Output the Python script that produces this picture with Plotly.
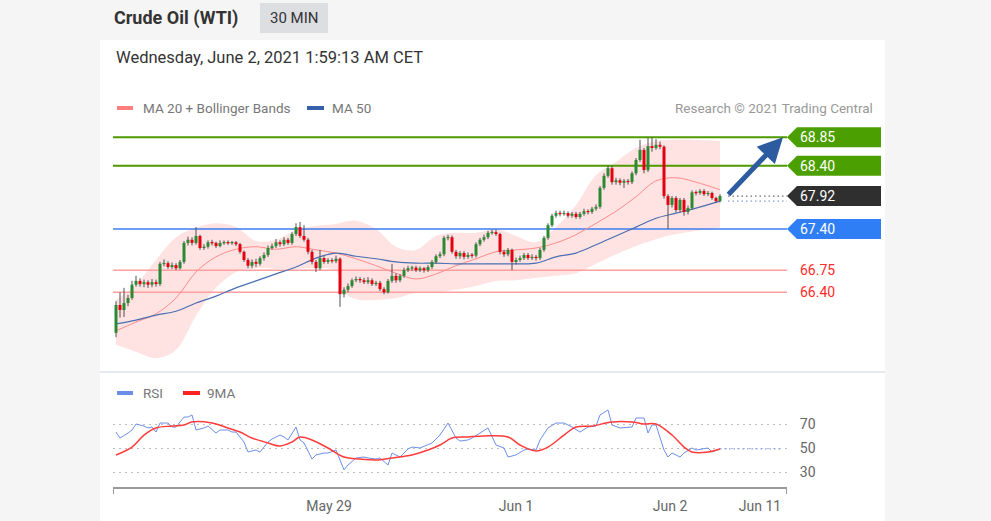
import plotly.graph_objects as go

W, H = 991, 521

# ---------------- data ----------------
opens = [65.76,66.20,66.12,66.23,66.31,66.52,66.58,66.53,66.56,66.52,
         66.56,66.53,66.85,66.86,66.80,66.83,66.78,66.88,67.18,67.23,
         67.18,67.29,67.10,67.12,67.19,67.18,67.13,67.18,67.19,67.18,
         67.19,67.16,67.04,66.91,66.82,66.88,66.85,66.94,66.99,67.10,
         67.13,67.19,67.16,67.23,67.18,67.32,67.43,67.29,67.23,67.04,
         66.88,66.78,66.94,66.88,66.91,66.89,66.93,66.37,66.44,66.50,
         66.59,66.61,66.59,66.56,66.59,66.53,66.55,66.45,66.40,66.58,
         66.66,66.59,66.66,66.75,66.78,66.79,66.75,66.78,66.75,66.80,
         66.88,66.97,67.00,67.26,67.27,67.04,66.97,67.02,66.96,66.99,
         66.98,67.16,67.23,67.27,67.34,67.35,67.32,67.04,67.00,67.07,
         66.88,66.91,66.94,66.99,66.94,66.96,66.94,67.07,67.26,67.46,
         67.61,67.65,67.64,67.65,67.61,67.64,67.59,67.64,67.68,67.67,
         67.72,67.75,68.05,68.24,68.36,68.14,68.17,68.13,68.16,68.14,
         68.28,68.49,68.65,68.33,68.71,68.68,68.73,68.70,67.92,67.78,
         67.89,67.70,67.86,67.67,67.73,67.98,67.97,68.00,67.95,67.97,
         67.89,67.84]
closes = [66.20,66.12,66.23,66.31,66.52,66.58,66.53,66.56,66.52,66.56,
          66.53,66.85,66.86,66.80,66.83,66.78,66.88,67.18,67.23,67.18,
          67.29,67.10,67.12,67.19,67.18,67.13,67.18,67.19,67.18,67.19,
          67.16,67.04,66.91,66.82,66.88,66.85,66.94,66.99,67.10,67.13,
          67.19,67.16,67.23,67.18,67.32,67.43,67.29,67.23,67.04,66.88,
          66.78,66.94,66.88,66.91,66.89,66.93,66.37,66.44,66.50,66.59,
          66.61,66.59,66.56,66.59,66.53,66.55,66.45,66.40,66.58,66.66,
          66.59,66.66,66.75,66.78,66.79,66.75,66.78,66.75,66.80,66.88,
          66.97,67.00,67.26,67.27,67.04,66.97,67.02,66.96,66.99,66.98,
          67.16,67.23,67.27,67.34,67.35,67.32,67.04,67.00,67.07,66.88,
          66.91,66.94,66.99,66.94,66.96,66.94,67.07,67.26,67.46,67.61,
          67.65,67.64,67.65,67.61,67.64,67.59,67.64,67.68,67.67,67.72,
          67.75,68.05,68.24,68.36,68.14,68.17,68.13,68.16,68.14,68.28,
          68.49,68.65,68.33,68.71,68.68,68.73,68.70,67.92,67.78,67.89,
          67.70,67.86,67.67,67.73,67.98,67.97,68.00,67.95,67.97,67.89,
          67.84,67.92]
highs = [66.26,66.40,66.47,66.36,66.58,66.66,66.62,66.60,66.59,66.61,
         66.60,66.88,66.92,66.89,66.87,66.86,66.91,67.21,67.28,67.27,
         67.43,67.31,67.16,67.22,67.23,67.20,67.22,67.22,67.22,67.21,
         67.21,67.18,67.06,66.94,66.92,66.93,66.97,67.03,67.14,67.17,
         67.24,67.22,67.27,67.26,67.35,67.49,67.51,67.46,67.26,67.07,
         66.91,67.07,66.97,66.94,66.94,66.98,66.95,66.48,66.54,66.62,
         66.65,66.64,66.63,66.64,66.62,66.58,66.58,66.48,66.61,66.85,
         66.70,66.69,66.79,66.82,66.82,66.82,66.81,66.80,66.83,66.91,
         67.00,67.04,67.29,67.31,67.30,67.07,67.05,67.05,67.03,67.02,
         67.19,67.26,67.31,67.37,67.39,67.39,67.34,67.07,67.10,67.09,
         66.95,66.98,67.02,67.02,67.00,66.99,67.10,67.29,67.49,67.64,
         67.69,67.69,67.69,67.68,67.67,67.67,67.67,67.72,67.71,67.75,
         67.79,68.08,68.28,68.40,68.40,68.21,68.20,68.19,68.19,68.31,
         68.52,68.81,68.68,68.84,68.85,68.82,68.78,68.72,67.95,67.92,
         67.92,67.89,67.89,67.77,68.01,68.01,68.03,68.03,68.00,67.99,
         67.91,67.95]
lows = [65.69,66.00,66.01,66.18,66.28,66.49,66.49,66.48,66.47,66.48,
        66.49,66.50,66.81,66.77,66.77,66.75,66.76,66.85,67.14,67.14,
        67.15,67.07,67.07,67.09,67.14,67.10,67.11,67.15,67.15,67.15,
        67.13,67.01,66.88,66.78,66.78,66.80,66.82,66.90,66.96,67.07,
        67.10,67.12,67.13,67.15,67.15,67.29,67.26,67.20,67.00,66.84,
        66.72,66.75,66.85,66.85,66.86,66.86,66.17,66.32,66.40,66.47,
        66.56,66.55,66.53,66.53,66.50,66.50,66.42,66.37,66.38,66.55,
        66.55,66.56,66.63,66.72,66.74,66.72,66.72,66.71,66.72,66.77,
        66.85,66.94,66.97,67.22,67.01,66.93,66.93,66.92,66.93,66.94,
        66.95,67.13,67.20,67.24,67.31,67.29,67.00,66.96,66.97,66.75,
        66.84,66.88,66.91,66.91,66.91,66.90,66.91,67.04,67.23,67.43,
        67.58,67.60,67.61,67.58,67.58,67.56,67.56,67.61,67.63,67.64,
        67.69,67.72,68.02,68.21,68.10,68.10,68.09,68.05,68.10,68.11,
        68.25,68.46,68.28,68.30,68.62,68.65,68.66,67.88,67.40,67.74,
        67.66,67.66,67.61,67.63,67.70,67.93,67.94,67.92,67.92,67.86,
        67.81,67.82]

band_bar = [0,5,10,15,20,25,30,35,40,45,50,55,57,60,65,70,75,80,85,90,95,100,
            105,110,115,120,125,130,135,140,145,151]
bb_upper = [66.28,66.52,66.91,67.27,67.42,67.49,67.43,67.21,67.23,67.38,67.45,
            67.48,67.51,67.53,67.40,67.12,67.07,67.29,67.34,67.34,67.40,67.29,
            67.19,67.43,67.78,68.25,68.46,68.68,68.79,68.81,68.81,68.79]
bb_lower = [65.57,65.46,65.36,65.49,66.03,66.47,66.72,66.78,66.77,66.77,66.78,
            66.74,66.40,66.29,66.28,66.31,66.39,66.40,66.44,66.50,66.58,66.59,
            66.63,66.66,66.70,66.85,67.00,67.13,67.24,67.32,67.37,67.42]

ma_bar = [0,5,10,15,20,25,30,35,40,45,50,55,60,65,70,75,80,85,90,95,100,105,
          110,115,120,125,130,135,140,145,151]
ma20 = [65.79,65.93,66.06,66.31,66.72,66.96,67.08,67.12,67.08,67.12,67.07,67.02,
        66.93,66.82,66.70,66.61,66.69,66.82,66.93,67.04,67.07,67.10,67.18,67.31,
        67.49,67.68,67.91,68.16,68.21,68.14,68.02]
ma50 = [65.90,65.96,66.04,66.10,66.23,66.34,66.47,66.58,66.69,66.80,66.94,67.02,
        66.97,66.93,66.88,66.86,66.86,66.85,66.85,66.85,66.85,66.86,66.96,67.02,
        67.15,67.29,67.43,67.57,67.65,67.73,67.84]

rsi_bar = [0,1,3,4,5,7,8,9,10,11,13,14,15,17,18,19,20,22,23,25,26,28,29,30,32,33,
           35,36,37,38,39,41,42,43,45,46,47,49,50,52,53,55,57,58,60,62,63,65,66,68,
           69,71,73,74,76,78,79,81,83,85,86,88,89,91,93,95,97,98,100,102,103,105,
           106,108,110,112,114,116,118,120,121,123,124,126,128,129,130,132,133,134,
           135,137,138,139,141,142,144,145,148,149,151]
rsi = [63.3,58.3,62.5,65,70,68.3,66.7,67.5,63.3,70.8,70.8,67.5,67.5,75.8,75.8,77.5,
       65,66.7,68.3,62.5,65,65,63.3,63.3,55,46.7,48.3,46.7,50.8,55,57.5,60.8,59.2,
       56.7,67.5,56.7,54.2,40.8,44.2,45.8,45.8,48.3,31.7,35.8,41.7,42.5,41.7,40.8,
       41.7,35.8,45.8,42.5,49.2,50.8,50,52.5,54.2,60.8,70.8,58.3,55.8,56.7,58.3,
       62.5,66.7,52.5,50,42.5,44.2,48.3,49.2,48.3,56.7,66.7,70.8,70.8,67.5,63.3,
       67.5,68.3,77.5,81.7,69.2,66.7,67.5,67.5,75,75,62.5,69.2,69.2,48.3,42.5,45.8,
       42.5,45.8,50,48.3,50,46.7,49.2]
rsi_ma_bar = [0,4,7,10,14,17,19,24,28,31,34,38,41,44,46,49,53,57,61,65,69,74,78,81,
              84,88,92,98,101,105,108,112,115,119,124,129,132,135,139,142,144,148,151]
rsi_ma = [44.2,50.8,60.8,66.7,68.3,69.2,71.7,70.8,66.7,63.3,58.3,54.2,51.7,55,59.2,
          56.7,50,42.5,40.8,40,41.7,44.2,48.3,52.5,58.3,59.2,60,59.2,52.5,47.5,50.8,
          60.8,67.5,68.3,71.7,71.7,70,70,60.8,50.8,46.7,46.7,49.2]

resistances = [68.85, 68.40]
pivot = 67.40
supports = [66.75, 66.40]
last_price = 67.92
rsi_levels = [30, 50, 70]
tick_pos = [53.25, 100, 138.5, 161]
tick_text = ["May 29", "Jun 1", "Jun 2", "Jun 11"]

# ---------------- layout helpers ----------------
def px(x):
    return x / W

def py(y):
    return 1 - y / H

X_LO, X_HI = -0.75, 167.75
Y_LO, Y_HI = 65.204, 69.043
R_LO, R_HI = 17.5, 90
MAIN_TOP, MAIN_BOT = 125, 368
PX_PER_UNIT = (MAIN_BOT - MAIN_TOP) / (Y_HI - Y_LO)
FONT = "Roboto"

GREEN_C = "#2a8a33"
RED_C = "#e3000f"
n = len(closes)
bars = list(range(n))

fig = go.Figure()

# Bollinger band
fig.add_trace(go.Scatter(x=band_bar, y=bb_lower, mode="lines",
                         line=dict(width=0, shape="spline", color="#ffe0e0"),
                         hoverinfo="skip", showlegend=False))
fig.add_trace(go.Scatter(x=band_bar, y=bb_upper, mode="lines", fill="tonexty",
                         fillcolor="#ffe2e2",
                         line=dict(width=0, shape="spline", color="#ffe0e0"),
                         hoverinfo="skip", showlegend=False))

# level lines
for lv in resistances:
    fig.add_trace(go.Scatter(x=[X_LO, X_HI], y=[lv, lv], mode="lines",
                             line=dict(color="#4f9a00", width=2),
                             hoverinfo="skip", showlegend=False))
fig.add_trace(go.Scatter(x=[X_LO, X_HI], y=[pivot, pivot], mode="lines",
                         line=dict(color="#3d7cf0", width=1.5),
                         hoverinfo="skip", showlegend=False))
for lv in supports:
    fig.add_trace(go.Scatter(x=[X_LO, X_HI], y=[lv, lv], mode="lines",
                             line=dict(color="#ff9e9e", width=1.5),
                             hoverinfo="skip", showlegend=False))

# moving averages
fig.add_trace(go.Scatter(x=ma_bar, y=ma20, mode="lines",
                         line=dict(color="#ff8c8c", width=1, shape="spline"),
                         hoverinfo="skip", showlegend=False))
fig.add_trace(go.Scatter(x=ma_bar, y=ma50, mode="lines",
                         line=dict(color="#4a6fb2", width=1.2, shape="spline"),
                         hoverinfo="skip", showlegend=False))

# projections (dotted)
fig.add_trace(go.Scatter(x=[n + 1, X_HI], y=[last_price, last_price], mode="lines",
                         line=dict(color="#6f6f6f", width=1.3, dash="1.5px,3px"),
                         hoverinfo="skip", showlegend=False))
fig.add_trace(go.Scatter(x=[n + 1, X_HI], y=[ma50[-1], ma50[-1]], mode="lines",
                         line=dict(color="#7f9fd8", width=1.3, dash="1.5px,3px"),
                         hoverinfo="skip", showlegend=False))

# candles: wicks
wx, wy = [], []
for i in bars:
    wx += [i, i, None]
    wy += [lows[i], highs[i], None]
fig.add_trace(go.Scatter(x=wx, y=wy, mode="lines",
                         line=dict(color="#505050", width=1),
                         hoverinfo="skip", showlegend=False))

# candles: bodies (thick line segments so they sit above the band fill)
MIN_BODY = 0.02
for up, col in ((True, GREEN_C), (False, RED_C)):
    bx, by = [], []
    for i in bars:
        o, c = opens[i], closes[i]
        if (c >= o) != up:
            continue
        lo_, hi_ = min(o, c), max(o, c)
        if hi_ - lo_ < MIN_BODY:
            mid = (hi_ + lo_) / 2
            lo_, hi_ = mid - MIN_BODY / 2, mid + MIN_BODY / 2
        bx += [i, i, None]
        by += [lo_, hi_, None]
    fig.add_trace(go.Scatter(x=bx, y=by, mode="lines",
                             line=dict(color=col, width=3),
                             hoverinfo="skip", showlegend=False))

# RSI panel
fig.add_trace(go.Scatter(x=rsi_bar, y=rsi, mode="lines", xaxis="x2", yaxis="y2",
                         line=dict(color="#6d8fe8", width=1),
                         hoverinfo="skip", showlegend=False))
fig.add_trace(go.Scatter(x=rsi_ma_bar, y=rsi_ma, mode="lines", xaxis="x2", yaxis="y2",
                         line=dict(color="#ff3b3b", width=1.5, shape="spline"),
                         hoverinfo="skip", showlegend=False))
fig.add_trace(go.Scatter(x=[rsi_bar[-1], X_HI - 1], y=[rsi[-1], rsi[-1]], mode="lines",
                         xaxis="x2", yaxis="y2",
                         line=dict(color="#7f9fe8", width=1.3, dash="1.5px,3px"),
                         hoverinfo="skip", showlegend=False))

shapes = []
annotations = []

# card background, separator
shapes.append(dict(type="rect", xref="paper", yref="paper", x0=px(100), x1=px(885),
                   y0=0, y1=py(40), fillcolor="white", line=dict(width=0), layer="below"))
shapes.append(dict(type="line", xref="paper", yref="paper", x0=px(100), x1=px(885),
                   y0=py(372), y1=py(372), line=dict(color="#e6eaef", width=2)))

# header
annotations.append(dict(xref="paper", yref="paper", x=px(112), y=py(18),
                        xanchor="left", yanchor="middle", showarrow=False,
                        text="<b>Crude Oil (WTI)</b>",
                        font=dict(family=FONT, size=18, color="#333333")))
shapes.append(dict(type="rect", xref="paper", yref="paper", x0=px(260), x1=px(328),
                   y0=py(33), y1=py(3), fillcolor="#dcdee2", line=dict(width=0)))
annotations.append(dict(xref="paper", yref="paper", x=px(294), y=py(18),
                        xanchor="center", yanchor="middle", showarrow=False,
                        text="30 MIN", font=dict(family=FONT, size=15, color="#333333")))
annotations.append(dict(xref="paper", yref="paper", x=px(114), y=py(58),
                        xanchor="left", yanchor="middle", showarrow=False,
                        text="Wednesday, June 2, 2021 1:59:13 AM CET",
                        font=dict(family=FONT, size=16.5, color="#333333")))

# legends
def legend_item(x0, x1, yc, color, label, tx, size=13.5):
    shapes.append(dict(type="rect", xref="paper", yref="paper", x0=px(x0), x1=px(x1),
                       y0=py(yc + 2), y1=py(yc - 2), fillcolor=color, line=dict(width=0)))
    annotations.append(dict(xref="paper", yref="paper", x=px(tx), y=py(yc),
                            xanchor="left", yanchor="middle", showarrow=False,
                            text=label, font=dict(family=FONT, size=size, color="#777777")))

legend_item(117, 133, 108, "#ff7f7f", "MA 20 + Bollinger Bands", 141)
legend_item(307, 324, 108, "#3461a8", "MA 50", 330)
legend_item(117, 133, 393, "#6a8ee8", "RSI", 141)
legend_item(183, 200, 393, "#ff2020", "9MA", 205)
annotations.append(dict(xref="paper", yref="paper", x=px(875), y=py(108),
                        xanchor="right", yanchor="middle", showarrow=False,
                        text="Research © 2021 Trading Central",
                        font=dict(family=FONT, size=13.5, color="#999999")))

# price labels
half = 10 / PX_PER_UNIT
def price_tag(price, color):
    path = (f"M {px(787)},{price} L {px(797)},{price + half} L {px(881)},{price + half} "
            f"L {px(881)},{price - half} L {px(797)},{price - half} Z")
    shapes.append(dict(type="path", xref="paper", yref="y", path=path,
                       fillcolor=color, line=dict(width=0)))
    annotations.append(dict(xref="paper", yref="y", x=px(798), y=price,
                            xanchor="left", yanchor="middle", showarrow=False,
                            text=f"{price:.2f}",
                            font=dict(family=FONT, size=14, color="white")))

for lv in resistances:
    price_tag(lv, "#4c9f00")
price_tag(last_price, "#2f2f2f")
price_tag(pivot, "#2f7ef6")
for lv in supports:
    annotations.append(dict(xref="paper", yref="y", x=px(798), y=lv,
                            xanchor="left", yanchor="middle", showarrow=False,
                            text=f"{lv:.2f}",
                            font=dict(family=FONT, size=14, color="#ff2a2a")))

# forecast arrow
annotations.append(dict(xref="x", yref="y", x=X_HI - 1.0, y=resistances[0],
                        axref="x", ayref="y", ax=n + 0.75, ay=last_price,
                        text="", showarrow=True, arrowhead=2, arrowsize=1,
                        arrowwidth=5, arrowcolor="#2d5b9f", standoff=0, startstandoff=0))

# x axis end ticks
for xv in (X_LO, X_HI):
    shapes.append(dict(type="line", xref="x2", yref="paper", x0=xv, x1=xv,
                       y0=py(487), y1=py(494), line=dict(color="#9a9a9a", width=2)))

fig.update_layout(
    width=W, height=H,
    margin=dict(l=0, r=0, t=0, b=0),
    paper_bgcolor="#f5f5f5",
    plot_bgcolor="rgba(0,0,0,0)",
    showlegend=False,
    hovermode=False,
    xaxis=dict(domain=[px(113), px(787)], range=[X_LO, X_HI], visible=False,
               fixedrange=True),
    yaxis=dict(domain=[py(MAIN_BOT), py(MAIN_TOP)], range=[Y_LO, Y_HI], visible=False,
               fixedrange=True),
    xaxis2=dict(domain=[px(113), px(787)], range=[X_LO, X_HI], anchor="y2",
                showline=True, linecolor="#9a9a9a", linewidth=2, showgrid=False,
                zeroline=False, tickvals=tick_pos, ticktext=tick_text,
                tickfont=dict(family=FONT, size=14, color="#666666"),
                ticks="outside", ticklen=5, tickcolor="rgba(0,0,0,0)"),
    yaxis2=dict(domain=[py(487), py(400)], range=[R_LO, R_HI], anchor="x2", side="right",
                tickvals=rsi_levels, showgrid=True, gridcolor="#bdbdbd",
                griddash="1.5px,4.5px", gridwidth=1.3, zeroline=False, showline=False,
                tickfont=dict(family=FONT, size=14, color="#666666"),
                ticks="outside", ticklen=9, tickcolor="rgba(0,0,0,0)"),
    shapes=shapes,
    annotations=annotations,
)

fig.write_html("out.html")
